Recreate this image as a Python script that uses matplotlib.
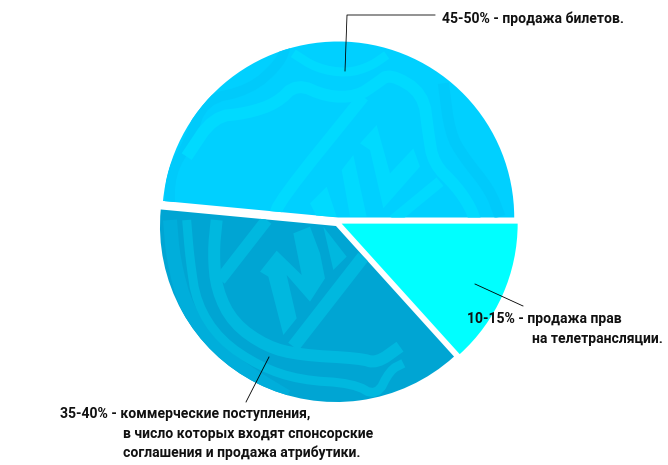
import matplotlib
matplotlib.use("Agg")
import matplotlib.pyplot as plt
from matplotlib.patches import Polygon

# Revenue shares
shares = [48.5, 38.2, 13.3]
colors = ["#00d0ff", "#00a5d3", "#00ffff"]
explode = [4.5, 4.5, 4.0]

W, H = 668, 465
FONT = "Roboto"
FS = 10.1


def py(y):
    # picture y (from the top) to axes y
    return H - y


def zoom1(pts):
    return [(150 + x / 3, y / 3) for x, y in pts]


def zoom2(pts):
    return [(x / 3, 210 + y / 3) for x, y in pts]


def soften(pts, rounds=2):
    # corner cutting, keeps the watermark bands from looking jagged
    for _ in range(rounds):
        new = [pts[0]]
        for (x0, y0), (x1, y1) in zip(pts[:-1], pts[1:]):
            new.append((0.75 * x0 + 0.25 * x1, 0.75 * y0 + 0.25 * y1))
            new.append((0.25 * x0 + 0.75 * x1, 0.25 * y0 + 0.75 * y1))
        new.append(pts[-1])
        pts = new
    return pts


fig = plt.figure(figsize=(W / 100, H / 100), dpi=100)
ax = fig.add_axes([0, 0, 1, 1])

wedges, _ = ax.pie(shares, colors=colors, explode=explode, startangle=0,
                   radius=176, center=(338, py(222)), frame=True)
ax.set_xlim(0, W)
ax.set_ylim(0, H)
ax.axis("off")


def band(pts, wedge, color, width):
    pts = soften(pts)
    xs = [p[0] for p in pts]
    ys = [py(p[1]) for p in pts]
    line, = ax.plot(xs, ys, color=color, lw=width * 0.72, solid_joinstyle="round",
                    solid_capstyle="butt", zorder=2)
    line.set_clip_path(wedge)


def shape(pts, wedge, color):
    poly = Polygon([(x, py(y)) for x, y in pts], closed=True, fc=color, ec="none", zorder=2)
    ax.add_patch(poly)
    poly.set_clip_path(wedge)


# faint shield watermark, top slice
top, mid, _c = wedges
light, dark = "#00daff", "#00cafb"
band(zoom1([(60, 640), (60, 520), (120, 420), (160, 300), (300, 270), (390, 190), (410, 130)]), top, dark, 10)
band(zoom1([(880, 250), (900, 400), (940, 470), (1020, 570), (1050, 650)]), top, dark, 11)
band(zoom1([(110, 470), (190, 350), (290, 340), (380, 310), (440, 250), (530, 290), (620, 290),
            (680, 250), (720, 220), (820, 280), (835, 400), (850, 490), (920, 560), (960, 620),
            (975, 660)]), top, light, 12)
band(zoom1([(430, 160), (500, 205), (590, 220), (660, 200), (710, 165)]), top, light, 9)
band(zoom1([(640, 290), (390, 600), (370, 660)]), top, light, 12)
band(zoom1([(870, 545), (730, 660)]), top, light, 11)
shape(zoom1([(630, 430), (680, 375), (720, 520), (790, 445), (810, 500), (700, 625), (660, 450)]), top, light)
shape(zoom1([(575, 510), (610, 465), (650, 650), (600, 650)]), top, light)
shape(zoom1([(480, 610), (530, 560), (560, 650), (500, 650)]), top, light)

# same watermark, lower left slice
light, dark = "#00b8df", "#00aedb"
band(zoom2([(510, 30), (520, 150), (560, 300), (650, 420), (760, 500), (860, 560)]), mid, dark, 14)
band(zoom2([(650, 30), (640, 130), (650, 240), (700, 340), (800, 410), (900, 435), (1080, 445),
            (1130, 460), (1200, 410)]), mid, light, 12)
band(zoom2([(560, 30), (570, 150), (590, 280), (660, 390), (780, 470), (900, 510), (1060, 520),
            (1130, 560), (1170, 480), (1210, 460)]), mid, light, 9)
band(zoom2([(800, 30), (660, 210)]), mid, light, 12)
band(zoom2([(1090, 140), (880, 410)]), mid, light, 13)
shape(zoom2([(780, 185), (830, 122), (905, 195), (880, 70), (930, 50), (960, 130), (975, 205),
             (930, 275), (860, 195), (890, 325), (850, 375), (805, 200)]), mid, light)
shape(zoom2([(970, 50), (1040, 140), (1000, 180)]), mid, light)

# leader lines
for xs, ys in [([435, 347, 345], [15, 15, 71]),
               ([269, 246], [357, 402]),
               ([475, 523], [284, 306])]:
    ax.plot(xs, [py(y) for y in ys], color="black", lw=0.6, zorder=3)

# captions
captions = [
    (442, 23, "45-50% - продажа билетов."),
    (467, 323, "10-15% - продажа прав"),
    (532, 343, "на телетрансляции."),
    (60, 418, "35-40% - коммерческие поступления,"),
    (123, 438, "в число которых входят спонсорские"),
    (123, 457, "соглашения и продажа атрибутики."),
]
for x, y, s in captions:
    ax.text(x, py(y), s, family=FONT, weight="bold", fontsize=FS, color="#111111",
            ha="left", va="baseline", zorder=4)

fig.savefig("out.png", dpi=100)
